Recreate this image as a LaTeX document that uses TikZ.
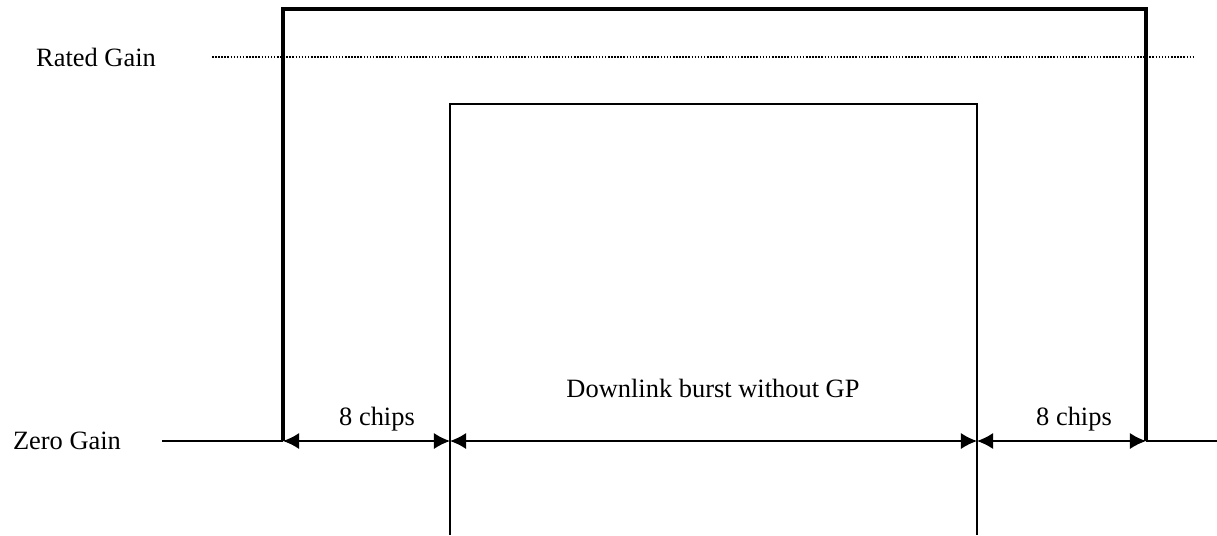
\documentclass[tikz,border=0pt]{standalone}
\usepackage{fontspec}
\setmainfont{Liberation Serif}
\usetikzlibrary{arrows.meta, positioning}

\begin{document}
\begin{tikzpicture}[
        x=0.025cm, y=-0.025cm,
        lbl/.style={font=\fontsize{18.8}{22}\selectfont, inner sep=0pt},
        gate/.style={line width=2.2pt},
        burst/.style={line width=1.6pt},
        base/.style={line width=1.6pt},
        rated/.style={line width=1.1pt, dash pattern=on 1.1pt off 1.1pt},
        span/.style={{Latex[length=11.5pt, width=11.5pt]}-{Latex[length=11.5pt, width=11.5pt]}, line width=1pt}
    ]
    \useasboundingbox (0,0) rectangle (1217,535);

    % zero gain line and rated gain level
    \coordinate (zl) at (162,441);
    \coordinate (zr) at (1217,441);
    \coordinate (ra) at (212,57);
    \coordinate (rb) at (1195,57);

    % outer gate window
    \coordinate (ol) at (283,441);
    \coordinate (otl) at (283,9);
    \coordinate (otr) at (1146,9);
    \coordinate (or) at (1146,441);

    % downlink burst
    \coordinate (ibl) at (450,535);
    \coordinate (itl) at (450,104);
    \coordinate (itr) at (977,104);
    \coordinate (ibr) at (977,535);
    \coordinate (ia) at (450,441);
    \coordinate (ib) at (977,441);

    \node[lbl] (rated) at (96,57) {Rated Gain};
    \node[lbl] (zero) at (67,441) {Zero Gain};
    \node[lbl] (chipsl) at (377,419) {8 chips};
    \node[lbl] (chipsr) at (1074,419) {8 chips};
    \node[lbl] (burstlbl) at (713,388) {Downlink burst without GP};

    \draw[rated] (ra) -- (rb);
    \draw[base] (zl) -- (ol);
    \draw[base] (or) -- (zr);
    \draw[gate] (ol) -- (otl) -- (otr) -- (or);
    \draw[burst] (ibl) -- (itl) -- (itr) -- (ibr);

    \draw[span] (ol) -- (ia);
    \draw[span] (ia) -- (ib);
    \draw[span] (ib) -- (or);

\end{tikzpicture}
\end{document}
